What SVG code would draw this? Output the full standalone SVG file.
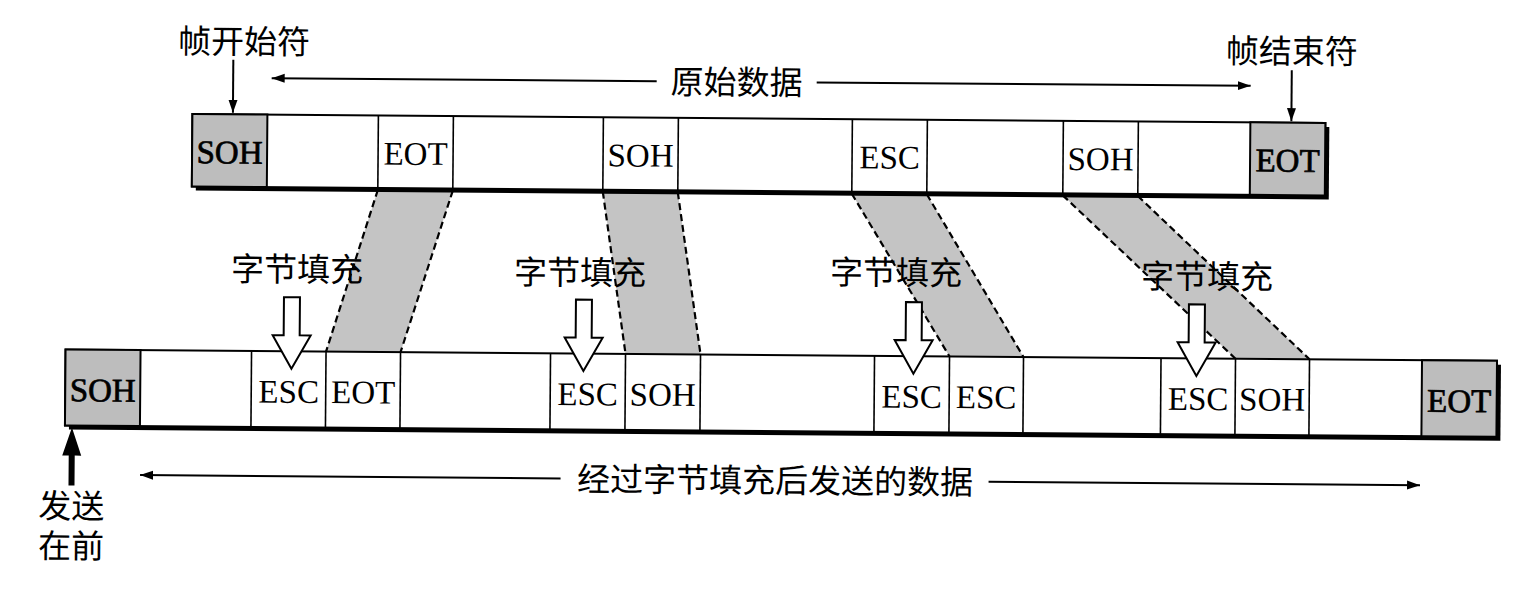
<svg xmlns="http://www.w3.org/2000/svg" width="1526" height="590" viewBox="0 0 1526 590">
<defs>
<marker id="ah" markerUnits="userSpaceOnUse" markerWidth="14" markerHeight="10" refX="13" refY="5" orient="auto">
<path d="M0,0.5 L13,5 L0,9.5 Z" fill="#000"/>
</marker>
<style>
.bar{fill:#fff;stroke:#000;stroke-width:2}
.shadow{fill:#000}
.gray{fill:#bdbdbd;stroke:#000;stroke-width:2}
.div{stroke:#000;stroke-width:1.6}
.lbl{font-family:"Liberation Serif","Times New Roman",serif;font-size:33px;fill:#000;text-anchor:middle}
.lblb{stroke:#000;stroke-width:0.7}
.cjk{font-family:"Noto Sans CJK SC","Noto Sans",sans-serif;font-size:33px;fill:#000;text-anchor:middle}
.cjk2{font-family:"Liberation Sans","Noto Sans CJK SC",sans-serif;font-size:33px;fill:#000;text-anchor:middle}
.line{stroke:#000;stroke-width:2;fill:none}
.band{fill:#c4c4c4;stroke:none}
.dash{stroke:#000;stroke-width:2.2;stroke-dasharray:7,4;fill:none}
.hollow{fill:#fff;stroke:#000;stroke-width:2}
</style>
</defs>
<g transform="rotate(0.45 763 295)">
<g id="connectors">
<g id="bands">
<polygon class="band" points="377,193 452,193 401,355 326.5,355"/>
<line class="dash" x1="377" y1="193" x2="326.5" y2="355"/>
<line class="dash" x1="452" y1="193" x2="401" y2="355"/>
<polygon class="band" points="602,193 677,193 701,355 626,355"/>
<line class="dash" x1="602" y1="193" x2="626" y2="355"/>
<line class="dash" x1="677" y1="193" x2="701" y2="355"/>
<polygon class="band" points="851,193 926,193 1024,355 950,355"/>
<line class="dash" x1="851" y1="193" x2="950" y2="355"/>
<line class="dash" x1="926" y1="193" x2="1024" y2="355"/>
<polygon class="band" points="1062,193 1137,193 1310,355 1236,355"/>
<line class="dash" x1="1062" y1="193" x2="1236" y2="355"/>
<line class="dash" x1="1137" y1="193" x2="1310" y2="355"/>
</g>
<line class="line" x1="231.5" y1="64" x2="231.5" y2="117" marker-end="url(#ah)"/>
<line class="line" x1="1290" y1="66" x2="1290" y2="117" marker-end="url(#ah)"/>
<line class="line" x1="655" y1="82" x2="270" y2="82" marker-end="url(#ah)"/>
<line class="line" x1="815" y1="82" x2="1249" y2="82" marker-end="url(#ah)"/>
<line class="line" x1="562" y1="480" x2="141.5" y2="480" marker-end="url(#ah)"/>
<line class="line" x1="990" y1="480" x2="1421.5" y2="480" marker-end="url(#ah)"/>
<path d="M70,491 V461 H63.5 L73,433 L82.5,461 H76 V491 Z" fill="#000"/>
</g>
<g id="top-frame">
<rect class="shadow" x="195" y="122.5" width="1133" height="72.5"/>
<rect class="bar" x="191" y="118.5" width="1133" height="72.5"/>
<rect class="gray" x="191" y="118.5" width="75" height="72.5"/>
<rect class="gray" x="1249" y="118.5" width="75" height="72.5"/>
<line class="div" x1="377" y1="118.5" x2="377" y2="191"/>
<line class="div" x1="452" y1="118.5" x2="452" y2="191"/>
<line class="div" x1="602" y1="118.5" x2="602" y2="191"/>
<line class="div" x1="677" y1="118.5" x2="677" y2="191"/>
<line class="div" x1="851" y1="118.5" x2="851" y2="191"/>
<line class="div" x1="926" y1="118.5" x2="926" y2="191"/>
<line class="div" x1="1062" y1="118.5" x2="1062" y2="191"/>
<line class="div" x1="1137" y1="118.5" x2="1137" y2="191"/>
<text class="lbl lblb" x="228.5" y="167.5">SOH</text>
<text class="lbl" x="414.5" y="167.5">EOT</text>
<text class="lbl" x="639.5" y="167.5">SOH</text>
<text class="lbl" x="888.5" y="167.5">ESC</text>
<text class="lbl" x="1099.5" y="167.5">SOH</text>
<text class="lbl lblb" x="1286.5" y="167.5">EOT</text>
</g>
<g id="bottom-frame">
<rect class="shadow" x="70" y="359" width="1431.5" height="76"/>
<rect class="bar" x="66" y="355" width="1431.5" height="76"/>
<rect class="gray" x="66" y="355" width="75" height="76"/>
<rect class="gray" x="1422.5" y="355" width="75" height="76"/>
<line class="div" x1="252" y1="355" x2="252" y2="431"/>
<line class="div" x1="326.5" y1="355" x2="326.5" y2="431"/>
<line class="div" x1="401" y1="355" x2="401" y2="431"/>
<line class="div" x1="551" y1="355" x2="551" y2="431"/>
<line class="div" x1="626" y1="355" x2="626" y2="431"/>
<line class="div" x1="701" y1="355" x2="701" y2="431"/>
<line class="div" x1="875" y1="355" x2="875" y2="431"/>
<line class="div" x1="950" y1="355" x2="950" y2="431"/>
<line class="div" x1="1024" y1="355" x2="1024" y2="431"/>
<line class="div" x1="1161.5" y1="355" x2="1161.5" y2="431"/>
<line class="div" x1="1236" y1="355" x2="1236" y2="431"/>
<line class="div" x1="1310" y1="355" x2="1310" y2="431"/>
<text class="lbl lblb" x="103.5" y="406.5">SOH</text>
<text class="lbl" x="289.5" y="406.5">ESC</text>
<text class="lbl" x="364" y="406.5">EOT</text>
<text class="lbl" x="588.5" y="406.5">ESC</text>
<text class="lbl" x="663.5" y="406.5">SOH</text>
<text class="lbl" x="912.5" y="406.5">ESC</text>
<text class="lbl" x="987" y="406.5">ESC</text>
<text class="lbl" x="1199" y="406.5">ESC</text>
<text class="lbl" x="1273" y="406.5">SOH</text>
<text class="lbl lblb" x="1460" y="406.5">EOT</text>
</g>
<g id="stuff1">
<text class="cjk" x="297" y="285">字节填充</text>
<path class="hollow" d="M284,301 H300 V339 H311 L292,372.5 L273,339 H284 Z"/>
</g>
<g id="stuff2">
<text class="cjk" x="580" y="286">字节填充</text>
<path class="hollow" d="M576,301 H592 V339 H603 L584,372.5 L565,339 H576 Z"/>
</g>
<g id="stuff3">
<text class="cjk" x="896" y="283.5">字节填充</text>
<path class="hollow" d="M906,301 H922 V339 H933 L914,372.5 L895,339 H906 Z"/>
</g>
<g id="stuff4">
<text class="cjk" x="1207" y="285">字节填充</text>
<path class="hollow" d="M1189,301 H1205 V339 H1216 L1197,372.5 L1178,339 H1189 Z"/>
</g>
<g id="label-start"><text class="cjk" x="242" y="57.5">帧开始符</text></g>
<g id="label-end"><text class="cjk" x="1290" y="59">帧结束符</text></g>
<g id="label-raw"><text class="cjk" x="735" y="94.5">原始数据</text></g>
<g id="label-sent"><text class="cjk" x="776.5" y="492.5">经过字节填充后发送的数据</text></g>
<g id="label-first"><text class="cjk2" x="73" y="523.5"><tspan x="73">发送</tspan><tspan x="73" dy="40">在前</tspan></text></g>
</g>
</svg>
